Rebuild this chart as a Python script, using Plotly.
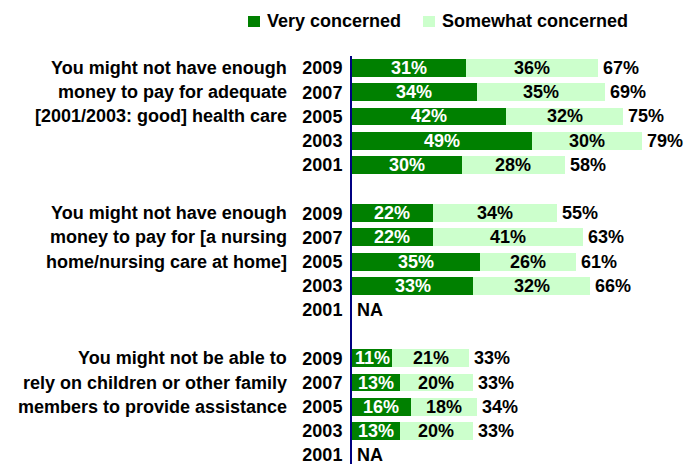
import plotly.graph_objects as go

# Survey data: share of respondents concerned, by item and survey year
years = ["2009", "2007", "2005", "2003", "2001"]
groups = [
    ["You might not have enough", "money to pay for adequate", "[2001/2003: good] health care"],
    ["You might not have enough", "money to pay for [a nursing", "home/nursing care at home]"],
    ["You might not be able to", "rely on children or other family", "members to provide assistance"],
]
series_names = ["Very concerned", "Somewhat concerned"]
very_health = [31, 34, 42, 49, 30]
some_health = [36, 35, 32, 30, 28]
total_health = [67, 69, 75, 79, 58]
very_nursing = [22, 22, 35, 33, None]
some_nursing = [34, 41, 26, 32, None]
total_nursing = [55, 63, 61, 66, None]
very_family = [11, 13, 16, 13, None]
some_family = [21, 20, 18, 20, None]
total_family = [33, 33, 34, 33, None]

very = [very_health, very_nursing, very_family]
some = [some_health, some_nursing, some_family]
total = [total_health, total_nursing, total_family]

DARK = "#008000"
LIGHT = "#CCFFCC"
FONT = "Liberation Sans, Arial, sans-serif"
FS = 18

W, H = 687, 464
ML, MR, MT, MB = 352, 5, 56, 0
PW, PH = W - ML - MR, H - MT - MB


def px_x(px):
    return (px - ML) / PW


def px_y(py):
    return (H - MB - py) / PH


ys, vv, ss, tt = [], [], [], []
tickvals, ticktext = [], []
for g in range(3):
    for k, yr in enumerate(years):
        row = g * 6 + k
        ys.append(row)
        vv.append(very[g][k])
        ss.append(some[g][k])
        tt.append(total[g][k])
        tickvals.append(row)
        ticktext.append(yr)

fig = go.Figure()
fig.add_trace(go.Bar(y=ys, x=vv, orientation="h", name=series_names[0],
                     marker=dict(color=DARK, line=dict(width=0)), hoverinfo="skip"))
fig.add_trace(go.Bar(y=ys, x=ss, orientation="h", name=series_names[1],
                     marker=dict(color=LIGHT, line=dict(width=0)), hoverinfo="skip"))

ann = []
for y, v, s, t in zip(ys, vv, ss, tt):
    if v is None:
        ann.append(dict(x=0, y=y, text="NA", showarrow=False, xanchor="left", xshift=3,
                        font=dict(color="black")))
        continue
    ann.append(dict(x=v / 2, y=y, text=f"{v}%", showarrow=False, font=dict(color="white")))
    ann.append(dict(x=v + s / 2, y=y, text=f"{s}%", showarrow=False, font=dict(color="black")))
    ann.append(dict(x=v + s, y=y, text=f"{t}%", showarrow=False, xanchor="left", xshift=3,
                    font=dict(color="black")))

# multi-line item labels, one line per row
for g, lines in enumerate(groups):
    for i, line in enumerate(lines):
        ann.append(dict(x=-0.19, xref="paper", y=g * 6 + i, yref="y", text=line,
                        showarrow=False, xanchor="right", font=dict(color="black")))

# legend drawn as swatches + labels across the top
shapes = []
legend_items = [(series_names[0], DARK, 248), (series_names[1], LIGHT, 423)]
for name, color, x0 in legend_items:
    shapes.append(dict(type="rect", xref="paper", yref="paper",
                       x0=px_x(x0), x1=px_x(x0 + 12), y0=px_y(27), y1=px_y(16),
                       fillcolor=color, line=dict(width=0)))
    ann.append(dict(x=px_x(x0 + 17), xref="paper", y=px_y(21), yref="paper", text=name,
                    showarrow=False, xanchor="left", yanchor="middle",
                    font=dict(color="black")))

for a in ann:
    a.setdefault("font", {})
    a["font"].update(family=FONT, size=FS, weight="bold")

fig.update_layout(
    barmode="stack",
    bargap=0.26,
    width=W, height=H,
    margin=dict(l=ML, r=MR, t=MT, b=MB, autoexpand=False),
    plot_bgcolor="white", paper_bgcolor="white",
    font=dict(family=FONT, size=FS, color="black", weight="bold"),
    annotations=ann,
    shapes=shapes,
    showlegend=False,
    xaxis=dict(range=[0, 90], showgrid=False, zeroline=False, showticklabels=False,
               showline=False, fixedrange=True),
    yaxis=dict(range=[16.37, -0.5], tickvals=tickvals, ticktext=ticktext,
               showgrid=False, zeroline=False, showline=True, linecolor="#000080",
               linewidth=2, ticks="", ticklabelstandoff=4, ticklabeloverflow="allow",
               fixedrange=True,
               tickfont=dict(family=FONT, size=FS, weight="bold", color="black")),
)

fig.write_html("out.html")
